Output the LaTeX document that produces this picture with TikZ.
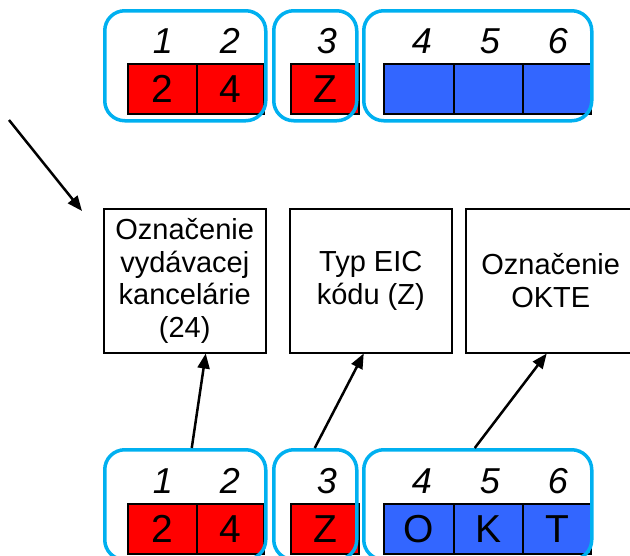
\documentclass[tikz,border=0pt]{standalone}
\usepackage{fontspec}
\setmainfont{Liberation Sans}
\usetikzlibrary{arrows.meta}
\definecolor{grpblue}{RGB}{0,176,240}
\definecolor{cellred}{RGB}{255,0,0}
\definecolor{cellblue}{RGB}{51,102,255}
\tikzset{
  cell/.style={draw=black, line width=2pt, minimum height=50pt, inner sep=0pt, anchor=north west, font=\fontsize{39}{39}\selectfont},
  redcell/.style={cell, fill=cellred},
  bluecell/.style={cell, fill=cellblue},
  grp/.style={draw=grpblue, line width=3.5pt, rounded corners=20pt, anchor=north west, minimum height=110pt, inner sep=0pt},
  num/.style={font=\fontsize{36}{36}\selectfont\itshape, inner sep=0pt},
  infobox/.style={draw=black, line width=1.5pt, anchor=north west, minimum height=144pt, inner sep=0pt, align=center, font=\fontsize{29}{32.5}\selectfont},
  conn/.style={line width=2.5pt, -{Triangle[length=15pt,width=12pt]}}
}
\begin{document}
\begin{tikzpicture}[x=1pt,y=-1pt]
\useasboundingbox (0,0) rectangle (630,555);
% ---------- top row ----------
\node[redcell, minimum width=69pt] (t1) at (127,63) {2};
\node[redcell, minimum width=67pt] (t2) at (196,63) {4};
\node[redcell, minimum width=68pt] (t3) at (290,63) {Z};
\node[bluecell, minimum width=70pt] (t4) at (383,63) {};
\node[bluecell, minimum width=69pt] (t5) at (453,63) {};
\node[bluecell, minimum width=68pt] (t6) at (522,63) {};
\node[num] (tn1) at (163,41) {1};
\node[num] (tn2) at (230,41) {2};
\node[num] (tn3) at (327,41) {3};
\node[num] (tn4) at (422,41) {4};
\node[num] (tn5) at (490,41) {5};
\node[num] (tn6) at (558,41) {6};
\node[grp, minimum width=161pt] (tg1) at (103,9) {};
\node[grp, minimum width=83pt] (tg2) at (272,9) {};
\node[grp, minimum width=228pt] (tg3) at (362,9) {};
% ---------- bottom row ----------
\node[redcell, minimum width=69pt] (b1) at (127,503) {2};
\node[redcell, minimum width=67pt] (b2) at (196,503) {4};
\node[redcell, minimum width=68pt] (b3) at (290,503) {Z};
\node[bluecell, minimum width=70pt] (b4) at (383,503) {O};
\node[bluecell, minimum width=69pt] (b5) at (453,503) {K};
\node[bluecell, minimum width=68pt] (b6) at (522,503) {T};
\node[num] (bn1) at (163,481) {1};
\node[num] (bn2) at (230,481) {2};
\node[num] (bn3) at (327,481) {3};
\node[num] (bn4) at (422,481) {4};
\node[num] (bn5) at (490,481) {5};
\node[num] (bn6) at (558,481) {6};
\node[grp, minimum width=161pt] (bg1) at (103,448) {};
\node[grp, minimum width=83pt] (bg2) at (272,448) {};
\node[grp, minimum width=228pt] (bg3) at (362,448) {};
% ---------- middle boxes ----------
\node[infobox, minimum width=162pt] (m1) at (103,208) {Označenie\\vydávacej\\kancelárie\\(24)};
\node[infobox, minimum width=162pt] (m2) at (289,208) {Typ EIC\\kódu (Z)};
\node[infobox, minimum width=170pt] (m3) at (465,208) {Označenie\\OKTE};
% ---------- connectors ----------
\coordinate (free) at (9,120);
\draw[conn] (free) -- (82,211);
\draw[conn] ([xshift=6.5pt]bg1.north) -- ([xshift=21pt]m1.south);
\draw[conn] ([xshift=-0.5pt]bg2.north) -- ([xshift=-7pt]m2.south);
\draw[conn] ([xshift=-3pt]bg3.north) -- ([xshift=-4pt]m3.south);
\end{tikzpicture}
\end{document}
